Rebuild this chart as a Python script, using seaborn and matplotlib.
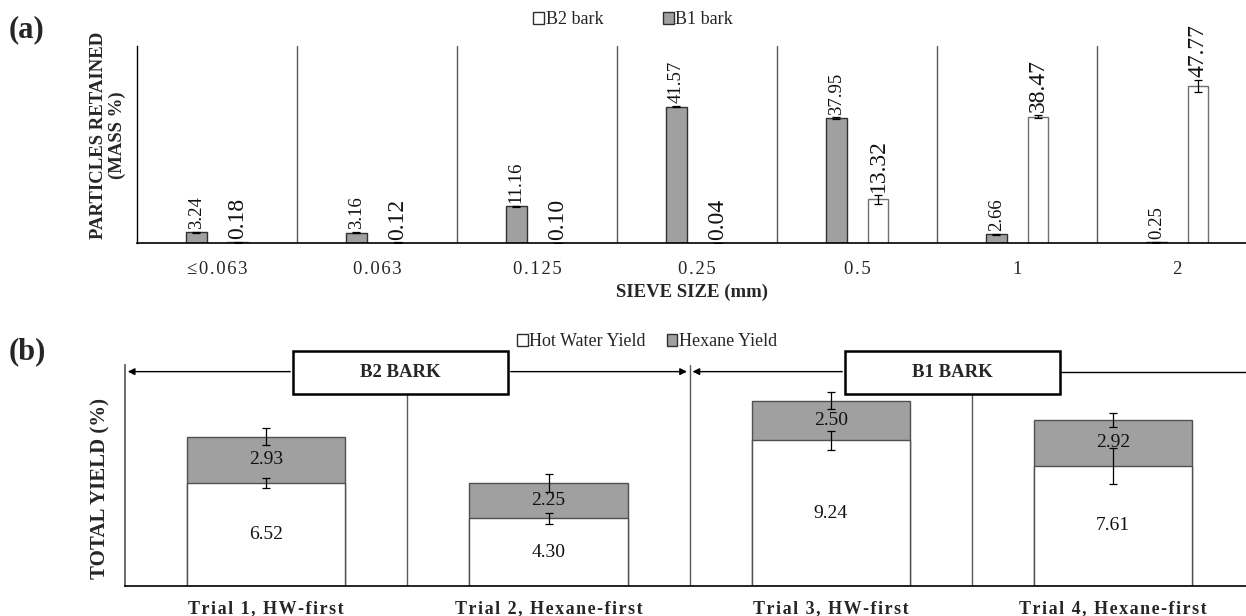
import matplotlib
matplotlib.use('Agg')
import matplotlib.pyplot as plt
import seaborn as sns
import pandas as pd
from matplotlib.patches import Patch, Rectangle

# ---------------- data ----------------
sieve_sizes = ['≤0.063', '0.063', '0.125', '0.25', '0.5', '1', '2']
b1_bark = [3.24, 3.16, 11.16, 41.57, 37.95, 2.66, 0.25]
b1_err = [0.2, 0.2, 0.2, 0.3, 0.3, 0.2, 0.15]
b2_bark = [0.18, 0.12, 0.10, 0.04, 13.32, 38.47, 47.77]
b2_err = [0.05, 0.05, 0.05, 0.03, 1.4, 0.5, 1.8]

trials = ['Trial 1, HW-first', 'Trial 2, Hexane-first', 'Trial 3, HW-first', 'Trial 4, Hexane-first']
hw_yield = [6.52, 4.30, 9.24, 7.61]
hw_err = [0.30, 0.35, 0.60, 1.14]
hex_yield = [2.93, 2.25, 2.50, 2.92]
hex_err = [0.54, 0.57, 0.55, 0.45]
bark_groups = ['B2 BARK', 'B1 BARK']

GRAY = '#a0a0a0'
sns.set_theme(style='white')
SERIF = ['Liberation Serif', 'DejaVu Serif']
plt.rcParams['font.family'] = SERIF
plt.rcParams['axes.unicode_minus'] = False


def spaced(s):
    return '\u200a'.join(list(s))


fig = plt.figure(figsize=(12.46, 6.16), dpi=100)

# ---------------- panel (a) ----------------
axA = fig.add_axes([137 / 1246, 1 - 243 / 616, 1 - 137 / 1246, (243 - 46) / 616])
dfa = pd.DataFrame({
    'sieve': sieve_sizes * 2,
    'series': ['B1 bark'] * 7 + ['B2 bark'] * 7,
    'value': b1_bark + b2_bark,
})
sns.barplot(data=dfa, x='sieve', y='value', hue='series', order=sieve_sizes,
            hue_order=['B1 bark', 'B2 bark'],
            palette={'B1 bark': GRAY, 'B2 bark': 'white'}, saturation=1,
            width=0.52, gap=0.5, ax=axA, legend=False, errorbar=None)
axA.set_ylim(0, 60)
axA.set_xlim(-0.5, 6.43)

conts = axA.containers
for cont, vals, errs, edge, fs in [(conts[0], b1_bark, b1_err, '#303030', 13.5),
                                   (conts[1], b2_bark, b2_err, '#707070', 17)]:
    for bar, v, e in zip(cont, vals, errs):
        bar.set_edgecolor(edge)
        bar.set_linewidth(1.0)
        x = bar.get_x() + bar.get_width() / 2
        axA.errorbar(x, v, yerr=e, fmt='none', ecolor='black', elinewidth=0.9,
                     capsize=3, capthick=0.9)
        axA.annotate(f'{v:.2f}', (x, v + e), xytext=(0, 2), textcoords='offset points',
                     rotation=90, ha='center', va='bottom', fontsize=fs, color='#111111')

for k in range(1, 7):
    axA.axvline(k - 0.5, color='#5a5a5a', lw=1.0)

for s in ['top', 'right']:
    axA.spines[s].set_visible(False)
axA.spines['left'].set_color('black')
axA.spines['bottom'].set_color('black')
axA.spines['left'].set_linewidth(1.0)
axA.spines['bottom'].set_linewidth(1.2)
axA.set_yticks([])
axA.set_xticks(range(7))
axA.set_xticklabels([spaced(s) for s in sieve_sizes], fontsize=13.5, family=SERIF)
axA.tick_params(axis='x', length=0, pad=13)
axA.set_xlabel('SIEVE SIZE (mm)', fontsize=13.5, fontweight='bold', labelpad=4)
axA.set_ylabel('PARTICLES RETAINED\n(MASS %)', fontsize=13.5, fontweight='bold',
               linespacing=1.15)
axA.yaxis.set_label_coords(-0.010, 0.548)

hA = [Patch(facecolor='white', edgecolor='#303030', label='B2 bark'),
      Patch(facecolor=GRAY, edgecolor='#303030', label='B1 bark')]
fig.legend(handles=hA, loc='center', bbox_to_anchor=(633 / 1246, 1 - 20 / 616), ncol=2,
           frameon=False, fontsize=13, handlelength=0.6, handleheight=0.6,
           handletextpad=0.1, columnspacing=3.3)
fig.text(9 / 1246, 1 - 30 / 616, '(a)', fontsize=22, fontweight='bold', va='center')

# ---------------- panel (b) ----------------
axB = fig.add_axes([125 / 1246, 1 - 586 / 616, 1 - 125 / 1246, (586 - 365) / 616])
total_yield = [h + x for h, x in zip(hw_yield, hex_yield)]
dfb = pd.DataFrame({'trial': trials, 'hw': hw_yield, 'total': total_yield})
sns.barplot(data=dfb, x='trial', y='total', order=trials, color=GRAY, saturation=1,
            width=0.56, ax=axB, errorbar=None)
sns.barplot(data=dfb, x='trial', y='hw', order=trials, color='white', saturation=1,
            width=0.56, ax=axB, errorbar=None)
axB.set_ylim(0, 14.0)
axB.set_xlim(-0.5, 3.47)

for bar in axB.containers[0]:
    bar.set_edgecolor('#505050')
    bar.set_linewidth(1.0)
for bar in axB.containers[1]:
    bar.set_edgecolor('#505050')
    bar.set_linewidth(1.0)
    bar.set_zorder(bar.get_zorder() + 0.1)

for bt, bh, hw, he, hx, hxe in zip(axB.containers[0], axB.containers[1],
                                   hw_yield, hw_err, hex_yield, hex_err):
    x = bt.get_x() + bt.get_width() / 2
    tot = bt.get_height()
    axB.errorbar(x, tot, yerr=hxe, fmt='none', ecolor='black', elinewidth=0.9,
                 capsize=3, capthick=0.9, zorder=5)
    axB.errorbar(x, bh.get_height(), yerr=he, fmt='none', ecolor='black', elinewidth=0.9,
                 capsize=3, capthick=0.9, zorder=5)
    axB.text(x, (bh.get_height() + tot) / 2, f'{hx:.2f}', ha='center', va='center',
             fontsize=14, color='#111111', zorder=6)
    axB.text(x, bh.get_height() / 2, f'{hw:.2f}', ha='center', va='center',
             fontsize=14, color='#111111', zorder=6)

for k in range(1, 4):
    axB.axvline(k - 0.5, color='#5a5a5a', lw=1.0, zorder=1)

for s in ['top', 'right']:
    axB.spines[s].set_visible(False)
axB.spines['left'].set_color('#5a5a5a')
axB.spines['bottom'].set_color('black')
axB.spines['bottom'].set_linewidth(1.2)
axB.set_yticks([])
axB.set_xticks(range(4))
axB.set_xticklabels([spaced(t) for t in trials], fontsize=13, fontweight='bold',
                    family=SERIF)
axB.tick_params(axis='x', length=0, pad=10)
axB.set_xlabel('')
axB.set_ylabel('TOTAL YIELD (%)', fontsize=15, fontweight='bold')
axB.yaxis.set_label_coords(-0.013, 0.443)

# bracket annotations
ya = 0.97
box_y0, box_y1 = 0.869, 1.063
boxes = [(0.095, 0.856), (2.05, 2.81)]
arrow_kw = dict(arrowstyle='-|>', color='black', lw=1.0, mutation_scale=10)
trans = axB.get_xaxis_transform()
axB.annotate('', xy=(-0.5, ya), xytext=(boxes[0][0], ya), xycoords=trans,
             textcoords=trans, arrowprops=arrow_kw, annotation_clip=False)
axB.annotate('', xy=(1.5, ya), xytext=(boxes[0][1], ya), xycoords=trans,
             textcoords=trans, arrowprops=arrow_kw, annotation_clip=False)
axB.annotate('', xy=(1.5, ya), xytext=(boxes[1][0], ya), xycoords=trans,
             textcoords=trans, arrowprops=arrow_kw, annotation_clip=False)
axB.plot([boxes[1][1], 3.47], [ya, ya], color='black', lw=1.0, transform=trans,
         clip_on=False)
for (x0, x1), name in zip(boxes, bark_groups):
    axB.add_patch(Rectangle((x0, box_y0), x1 - x0, box_y1 - box_y0, transform=trans,
                            facecolor='white', edgecolor='black', lw=1.8,
                            clip_on=False, zorder=8))
    axB.text((x0 + x1) / 2, (box_y0 + box_y1) / 2, name, transform=trans,
             ha='center', va='center', fontsize=13.5, fontweight='bold', zorder=9)

hB = [Patch(facecolor='white', edgecolor='#303030', label='Hot Water Yield'),
      Patch(facecolor=GRAY, edgecolor='#303030', label='Hexane Yield')]
fig.legend(handles=hB, loc='center', bbox_to_anchor=(647 / 1246, 1 - 342 / 616), ncol=2,
           frameon=False, fontsize=13, handlelength=0.6, handleheight=0.6,
           handletextpad=0.1, columnspacing=1.15)
fig.text(9 / 1246, 1 - 352 / 616, '(b)', fontsize=22, fontweight='bold', va='center')

fig.savefig('out.png', dpi=100)
